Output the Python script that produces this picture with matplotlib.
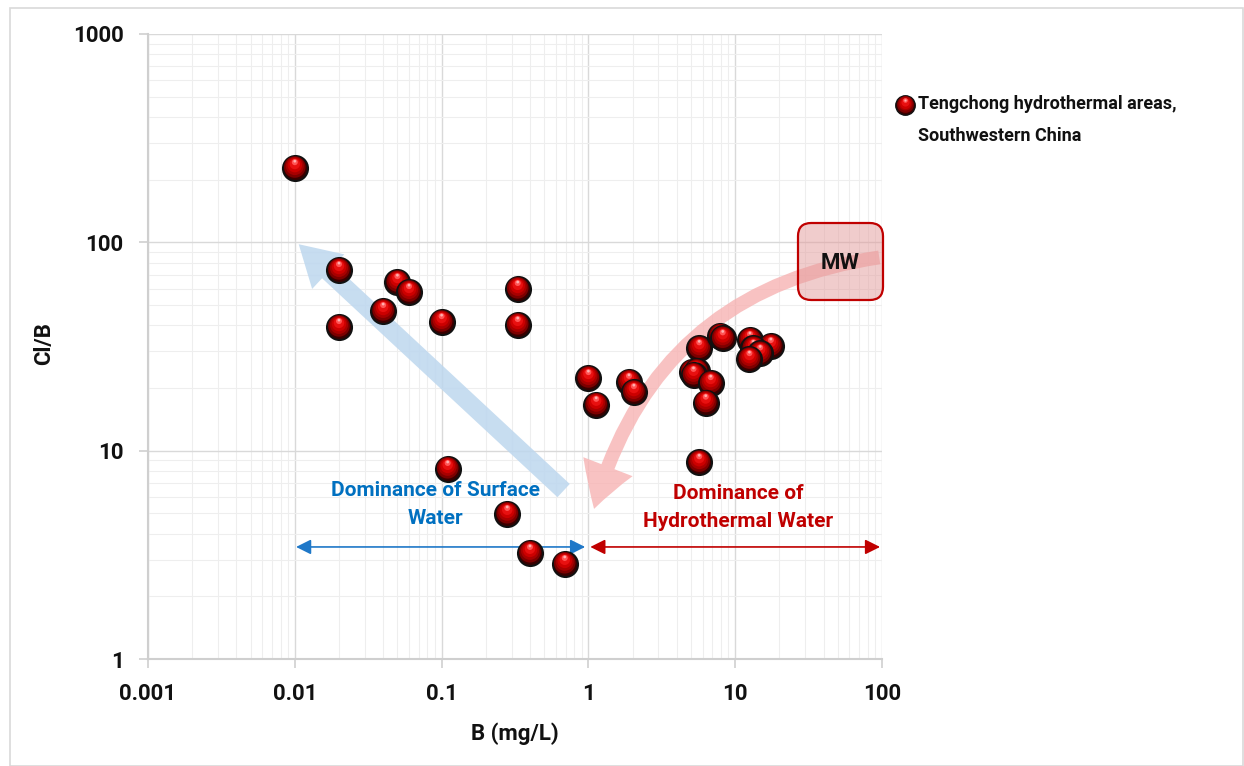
import matplotlib
matplotlib.use("Agg")
import matplotlib.pyplot as plt
from matplotlib import transforms
from matplotlib.patches import FancyArrowPatch, FancyBboxPatch, Rectangle
from matplotlib.ticker import LogLocator, NullFormatter, FixedLocator, FuncFormatter

plt.rcParams['font.family'] = ['Roboto', 'DejaVu Sans']

# ---------------- data ----------------
B_mgL = [0.01, 0.02, 0.02, 0.05, 0.06, 0.04, 0.10, 0.33, 0.33, 0.11, 0.28, 0.40, 0.69,
         1.00, 1.13, 1.89, 2.04,
         5.69, 7.9, 8.22, 12.6, 17.5, 13.3, 14.8, 12.5, 5.05, 5.45, 5.2, 6.81, 6.3, 5.69]
Cl_B = [227, 73.6, 39.2, 64.4, 57.7, 46.8, 41.4, 59.7, 40.1, 8.17, 4.97, 3.23, 2.86,
        22.3, 16.6, 21.4, 19.1,
        31.0, 35.6, 34.6, 34.0, 31.8, 31.0, 29.3, 27.5, 23.9, 24.1, 23.1, 21.1, 17.0, 8.8]
x_ticks = [0.001, 0.01, 0.1, 1, 10, 100]
y_ticks = [1, 10, 100, 1000]
series_label = "Tengchong hydrothermal areas,"
series_label2 = "Southwestern China"

# ---------------- figure ----------------
W, H = 1244, 766
fig = plt.figure(figsize=(W / 100, H / 100), dpi=100)
fig.patch.set_facecolor('white')
fig.add_artist(Rectangle((10 / W, 0.0), (W - 11) / W, 1 - 8 / H, transform=fig.transFigure,
                         fill=False, edgecolor='#d9d9d9', lw=1.2))

ax = fig.add_axes([148 / W, 1 - 659 / H, 734 / W, 625 / H])
ax.set_xscale('log')
ax.set_yscale('log')
ax.set_xlim(0.001, 100)
ax.set_ylim(1, 1000)

ax.xaxis.set_major_locator(FixedLocator(x_ticks))
ax.yaxis.set_major_locator(FixedLocator(y_ticks))
ax.xaxis.set_minor_locator(LogLocator(base=10, subs=range(2, 10), numticks=50))
ax.yaxis.set_minor_locator(LogLocator(base=10, subs=range(2, 10), numticks=50))
fmt = FuncFormatter(lambda v, p: '%g' % v)
ax.xaxis.set_major_formatter(fmt)
ax.yaxis.set_major_formatter(fmt)
ax.xaxis.set_minor_formatter(NullFormatter())
ax.yaxis.set_minor_formatter(NullFormatter())

ax.grid(which='major', color='#d9d9d9', lw=1.0, zorder=0)
ax.grid(which='minor', color='#eeeeee', lw=0.8, zorder=0)
ax.set_axisbelow(True)
for s in ['top', 'right']:
    ax.spines[s].set_visible(False)
for s in ['left', 'bottom']:
    ax.spines[s].set_color('#cfcfcf')
    ax.spines[s].set_linewidth(1.5)

ax.tick_params(which='major', length=6.5, width=1.2, color='#cfcfcf', pad=11,
               labelsize=16, labelcolor='#111111')
ax.tick_params(which='minor', length=0)
for lab in ax.get_xticklabels() + ax.get_yticklabels():
    lab.set_fontweight('bold')

ax.set_xlabel('B (mg/L)', fontsize=16, fontweight='bold', color='#111111', va='center')
ax.xaxis.set_label_coords(0.5, (659 - 734) / 625)
ax.set_ylabel('Cl/B', fontsize=16, fontweight='bold', color='#111111', va='center')
ax.yaxis.set_label_coords((44 - 148) / 734, (659 - 343.5) / 625)

# ---------------- annotations (below points) ----------------
blue_arrow = FancyArrowPatch(posA=(0.70, 6.3), posB=(0.0103, 100),
                             arrowstyle='simple,head_length=29,head_width=34,tail_width=13',
                             mutation_scale=1, color='#bdd7ee', alpha=0.85, lw=0, zorder=2)
ax.add_patch(blue_arrow)

red_arrow = FancyArrowPatch(posA=(100, 85), posB=(1.08, 5.1),
                            connectionstyle='arc3,rad=0.33',
                            arrowstyle='simple,head_length=32,head_width=38,tail_width=10',
                            mutation_scale=1, color='#f7b3b3', alpha=0.8, lw=0, zorder=2)
ax.add_patch(red_arrow)

box_x0, box_x1 = (798 - 148) / 734, (883 - 148) / 734
box_y0, box_y1 = (659 - 300) / 625, (659 - 223) / 625
mw_box = FancyBboxPatch((box_x0, box_y0), box_x1 - box_x0, box_y1 - box_y0,
                        boxstyle='round,pad=0,rounding_size=0.018',
                        mutation_aspect=734 / 625, transform=ax.transAxes,
                        facecolor='#e39b9b', alpha=0.5, edgecolor='none', zorder=3,
                        clip_on=False)
ax.add_patch(mw_box)
mw_edge = FancyBboxPatch((box_x0, box_y0), box_x1 - box_x0, box_y1 - box_y0,
                         boxstyle='round,pad=0,rounding_size=0.018',
                         mutation_aspect=734 / 625, transform=ax.transAxes,
                         facecolor='none', edgecolor='#c00000', lw=1.6, zorder=3,
                         clip_on=False)
ax.add_patch(mw_edge)
ax.text((box_x0 + box_x1) / 2, (659 - 263) / 625, 'MW', transform=ax.transAxes,
        ha='center', va='center', fontsize=16, fontweight='bold', color='#111111', zorder=4)

ax.annotate('', xy=(0.0102, 3.45), xytext=(0.95, 3.45),
            arrowprops=dict(arrowstyle='<|-|>,head_length=0.6,head_width=0.3',
                            mutation_scale=15, color='#1f78c8', lw=1.2,
                            shrinkA=0, shrinkB=0), zorder=2)
ax.annotate('', xy=(1.03, 3.45), xytext=(97, 3.45),
            arrowprops=dict(arrowstyle='<|-|>,head_length=0.6,head_width=0.3',
                            mutation_scale=15, color='#c00000', lw=1.2,
                            shrinkA=0, shrinkB=0), zorder=2)

ax.text(0.0902, 5.52, 'Dominance of Surface\nWater', ha='center', va='center',
        fontsize=15, fontweight='bold', color='#0070c0', linespacing=1.6, zorder=2)
ax.text(10.45, 5.33, 'Dominance of\nHydrothermal Water', ha='center', va='center',
        fontsize=15, fontweight='bold', color='#c00000', linespacing=1.6, zorder=2)

# ---------------- sphere-like markers ----------------
D = 18.0  # marker diameter in points
layers = [
    (1.00, '#3a0000', 0.0),
    (0.86, '#7d0000', 0.8),
    (0.72, '#a80000', 1.5),
    (0.58, '#cc0000', 2.2),
    (0.42, '#e81010', 3.0),
    (0.24, '#ff5555', 4.3),
    (0.11, '#ffb0b0', 5.0),
]
z = 5
for bx, cy in zip(B_mgL, Cl_B):
    for i, (frac, col, dy) in enumerate(layers):
        tr = transforms.offset_copy(ax.transData, fig=fig, x=0, y=dy, units='points')
        if i == 0:
            ax.scatter([bx], [cy], s=(D * frac) ** 2, color=col, edgecolors='#111111',
                       linewidths=1.5, zorder=z, clip_on=False)
        else:
            ax.scatter([bx], [cy], s=(D * frac) ** 2, color=col, edgecolors='none',
                       transform=tr, zorder=z, clip_on=False)
        z += 0.01

# ---------------- legend ----------------
lx, ly = 905 / W, 1 - 105 / H
Dl = 14.0
for i, (frac, col, dy) in enumerate(layers):
    tr = transforms.offset_copy(fig.transFigure, fig=fig, x=0, y=dy * Dl / D, units='points')
    if i == 0:
        fig.add_artist(plt.Line2D([lx], [ly], marker='o', markersize=Dl * frac, color=col,
                                  markeredgecolor='#111111', markeredgewidth=1.0,
                                  transform=fig.transFigure, linestyle='none'))
    else:
        fig.add_artist(plt.Line2D([lx], [ly], marker='o', markersize=Dl * frac, color=col,
                                  markeredgewidth=0, transform=tr, linestyle='none'))
fig.text(918 / W, 1 - 104 / H, series_label, ha='left', va='center',
         fontsize=13, fontweight='bold', color='#111111')
fig.text(918 / W, 1 - 136 / H, series_label2, ha='left', va='center',
         fontsize=13, fontweight='bold', color='#111111')

fig.savefig('out.png', dpi=100, facecolor='white')
